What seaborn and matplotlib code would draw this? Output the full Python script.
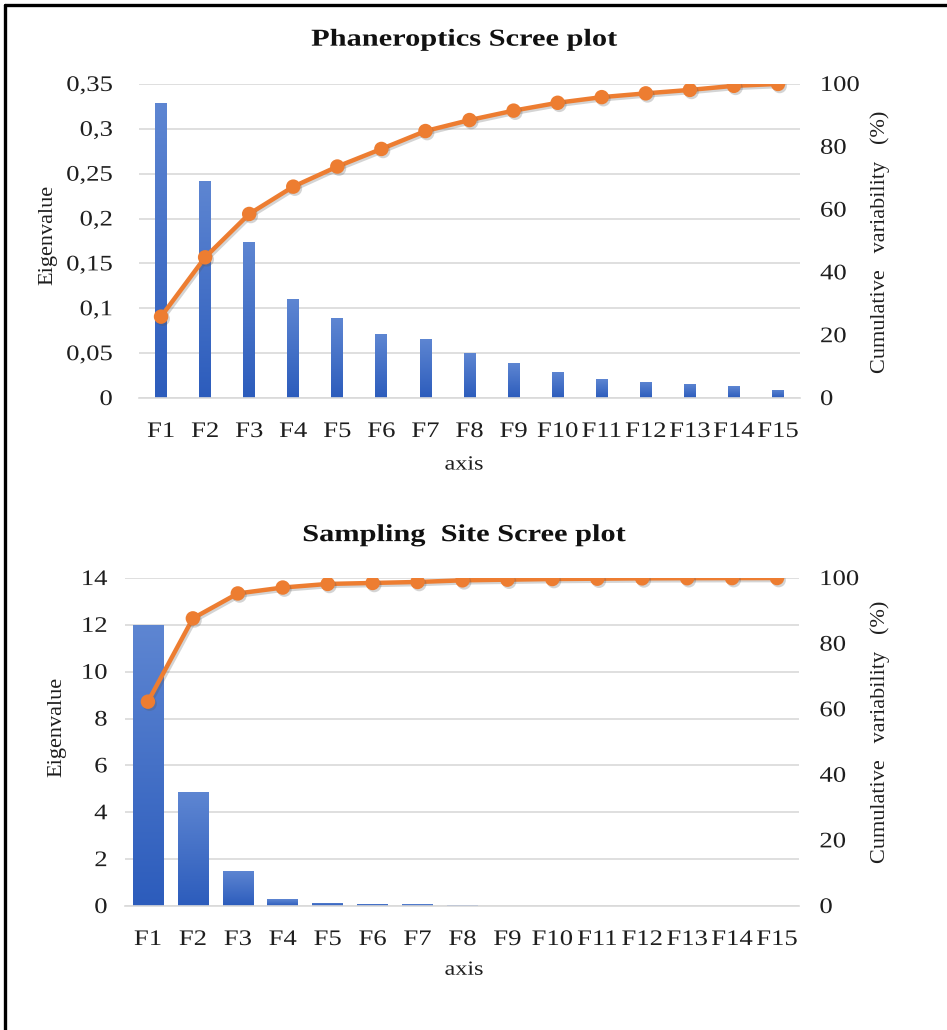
import numpy as np
import pandas as pd
import matplotlib
matplotlib.use("Agg")
import matplotlib.pyplot as plt
import matplotlib.patheffects as pe
from matplotlib.colors import LinearSegmentedColormap
from matplotlib.lines import Line2D
from matplotlib.transforms import Affine2D
import seaborn as sns

# ---- data ----
factors = ["F1", "F2", "F3", "F4", "F5", "F6", "F7", "F8",
           "F9", "F10", "F11", "F12", "F13", "F14", "F15"]

phan_eigen = [0.329, 0.242, 0.174, 0.110, 0.089, 0.071, 0.066, 0.050,
              0.039, 0.029, 0.021, 0.018, 0.016, 0.013, 0.009]
phan_cum = [25.9, 44.8, 58.6, 67.3, 73.7, 79.3, 85.0, 88.5,
            91.5, 94.0, 95.8, 97.0, 98.1, 99.4, 100.0]

site_eigen = [12.0, 4.85, 1.50, 0.28, 0.14, 0.09, 0.08, 0.03,
              0.02, 0.015, 0.01, 0.008, 0.005, 0.003, 0.002]
site_cum = [62.3, 87.7, 95.3, 97.1, 98.2, 98.5, 98.8, 99.3,
            99.5, 99.7, 99.8, 99.9, 99.95, 99.98, 100.0]

phan_left_ticks = [0, 0.05, 0.10, 0.15, 0.20, 0.25, 0.30, 0.35]
phan_left_labels = ["0", "0,05", "0,1", "0,15", "0,2", "0,25", "0,3", "0,35"]
site_left_ticks = [0, 2, 4, 6, 8, 10, 12, 14]
right_ticks = [0, 20, 40, 60, 80, 100]

titles = ["Phaneroptics Scree plot", "Sampling  Site Scree plot"]

# ---- style ----
sns.set_theme(style="white")
plt.rcParams["font.family"] = ["Liberation Serif", "DejaVu Serif"]
plt.rcParams["axes.unicode_minus"] = False

BAR_TOP = "#5E86D2"
BAR_BOT = "#2C5CBC"
ORANGE = "#ED7D31"
GRID = "#D9D9D9"
TEXT = "#1E1E1E"
TICK_FS = 16
LABEL_FS = 16
SX = 1.2  # horizontal widening of the serif glyphs


class HStretch(pe.AbstractPathEffect):
    """Draw text glyphs widened horizontally about an anchor edge."""

    def __init__(self, sx, anchor="center"):
        super().__init__()
        self.sx = sx
        self.anchor = anchor

    def draw_path(self, renderer, gc, tpath, affine, rgbFace=None):
        bb = tpath.get_extents(affine)
        if self.anchor == "right":
            cx = bb.x1
        elif self.anchor == "left":
            cx = bb.x0
        else:
            cx = 0.5 * (bb.x0 + bb.x1)
        aff = affine + Affine2D().translate(-cx, 0).scale(self.sx, 1).translate(cx, 0)
        renderer.draw_path(gc, tpath, aff, rgbFace)


fig = plt.figure(figsize=(9.47, 10.30), dpi=100)

grad_cmap = LinearSegmentedColormap.from_list("bar_grad", [BAR_BOT, BAR_TOP])
grad = np.linspace(0, 1, 256).reshape(-1, 1)


def scree(rect, eigen, cum, width, lticks, llabels, lpad, ylab_xy, rlab_xy):
    ax = fig.add_axes(rect)
    df = pd.DataFrame({"factor": factors, "eigen": eigen})
    sns.barplot(data=df, x="factor", y="eigen", ax=ax, color=BAR_BOT,
                width=width, saturation=1, zorder=2)
    # vertical gradient fill inside each bar
    for bar in ax.patches:
        x0, y0 = bar.get_x(), bar.get_y()
        w, h = bar.get_width(), bar.get_height()
        if h <= 0:
            continue
        im = ax.imshow(grad, cmap=grad_cmap, origin="lower", aspect="auto",
                       extent=(x0, x0 + w, y0, y0 + h), zorder=2)
        im.set_clip_path(bar)
        bar.set_facecolor("none")
        bar.set_edgecolor("none")

    ax.set_xlim(-0.5, len(factors) - 0.5)
    ax.set_ylim(lticks[0], lticks[-1])
    ax.set_yticks(lticks)
    ax.set_yticklabels(llabels)
    ax.yaxis.grid(True, color=GRID, linewidth=1.2, zorder=0)
    ax.xaxis.grid(False)
    for s in ["top", "right", "left"]:
        ax.spines[s].set_visible(False)
    ax.spines["bottom"].set_color(GRID)
    ax.spines["bottom"].set_linewidth(1.2)
    ax.tick_params(axis="both", length=0, labelsize=TICK_FS, colors=TEXT)
    ax.tick_params(axis="y", pad=lpad)
    ax.tick_params(axis="x", pad=18)
    for lab in ax.get_yticklabels():
        lab.set_path_effects([HStretch(SX, "right")])
    for lab in ax.get_xticklabels():
        lab.set_path_effects([HStretch(SX, "center")])
    ax.set_xlabel("")
    ax.set_ylabel("Eigenvalue", fontsize=LABEL_FS, color=TEXT)
    ax.yaxis.set_label_coords(*ylab_xy)

    ax2 = ax.twinx()
    sns.pointplot(x=factors, y=cum, ax=ax2, color=ORANGE, markers="o",
                  markersize=8, linewidth=3.2)
    for ln in ax2.lines:
        ln.set_path_effects([pe.SimpleLineShadow(offset=(1.2, -1.5),
                                                 shadow_color="#555555",
                                                 alpha=0.25),
                             pe.Normal()])
        ln.set_markeredgecolor(ORANGE)
    ax2.set_xlim(-0.5, len(factors) - 0.5)
    ax2.set_ylim(0, 100)
    ax2.set_yticks(right_ticks)
    ax2.grid(False)
    for s in ax2.spines.values():
        s.set_visible(False)
    ax2.tick_params(axis="y", length=0, labelsize=TICK_FS, colors=TEXT,
                    pad=14.5)
    for lab in ax2.get_yticklabels():
        lab.set_path_effects([HStretch(SX, "left")])
    ax2.set_ylabel("Cumulative   variability   (%)", fontsize=LABEL_FS,
                   color=TEXT)
    ax2.yaxis.set_label_coords(*rlab_xy)
    ax2.set_xlabel("")
    return ax, ax2


scree([0.1468, 0.6136, 0.6980, 0.3049], phan_eigen, phan_cum, 0.27,
      phan_left_ticks, phan_left_labels, 19, (-0.124, 0.52), (1.106, 0.497))
scree([0.1325, 0.1204, 0.7117, 0.3184], site_eigen, site_cum, 0.68,
      site_left_ticks, [str(t) for t in site_left_ticks], 13,
      (-0.087, 0.546), (1.105, 0.53))

for y, t in [(0.961, titles[0]), (0.480, titles[1])]:
    fig.text(0.49, y, t, ha="center", va="center", fontsize=17.5,
             fontweight="bold", color="#111111",
             path_effects=[HStretch(1.25, "center")])
for y in [0.5485, 0.058]:
    fig.text(0.49, y, "axis", ha="center", va="center", fontsize=14.5,
             color=TEXT, path_effects=[HStretch(SX, "center")])

# frame lines along the top and left edges
fig.add_artist(Line2D([0.005, 1.0], [0.9951, 0.9951], color="black",
                      linewidth=2.4, transform=fig.transFigure))
fig.add_artist(Line2D([0.0055, 0.0055], [0.0, 0.9951], color="black",
                      linewidth=2.4, transform=fig.transFigure))

fig.savefig("out.png", dpi=100, facecolor="white")
